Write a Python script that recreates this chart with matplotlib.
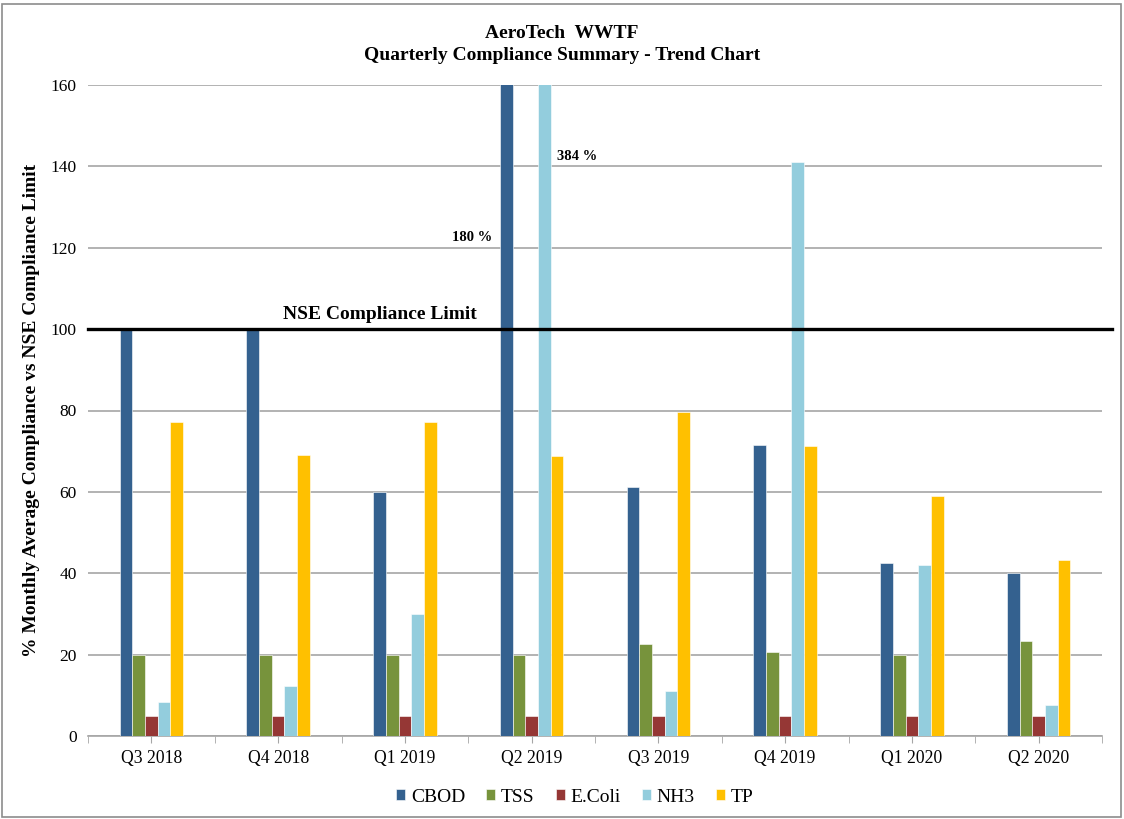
import matplotlib
matplotlib.use("Agg")
import matplotlib.pyplot as plt
import numpy as np
from matplotlib.patches import Rectangle
from matplotlib.lines import Line2D

plt.rcParams['font.family'] = ['Liberation Serif', 'DejaVu Serif']

quarters = ["Q3 2018", "Q4 2018", "Q1 2019", "Q2 2019", "Q3 2019", "Q4 2019", "Q1 2020", "Q2 2020"]
series_names = ["CBOD", "TSS", "E.Coli", "NH3", "TP"]
cbod = [100, 100, 60, 180, 61.2, 71.5, 42.5, 40]
tss = [20, 20, 20, 20, 22.6, 20.6, 20, 23.3]
ecoli = [5, 5, 5, 5, 5, 5, 5, 5]
nh3 = [8.4, 12.3, 30, 384, 11.1, 141, 42, 7.6]
tp = [77.2, 69.1, 77.2, 68.8, 79.6, 71.3, 59, 43.3]
colors = ["#34618F", "#77933C", "#953735", "#93CDDD", "#FFC000"]
limit = 100
ticks_y = [0, 20, 40, 60, 80, 100, 120, 140, 160]

W, H = 1124, 819
fig = plt.figure(figsize=(W / 100, H / 100), dpi=100)
ax = fig.add_axes([88 / W, (H - 736) / H, (1102 - 88) / W, (736 - 85) / H])

x = np.arange(len(quarters))
bw = 0.1
data = [cbod, tss, ecoli, nh3, tp]
for i, (name, vals, c) in enumerate(zip(series_names, data, colors)):
    ax.bar(x + (i - 2) * bw, vals, width=bw, color=c, edgecolor="white",
           linewidth=0.4, label=name, zorder=3)

ax.set_ylim(0, 160)
ax.set_xlim(-0.5, len(quarters) - 0.5)
ax.set_yticks(ticks_y)
ax.yaxis.grid(True, color="#A6A6A6", linewidth=1.2, zorder=0)
ax.set_axisbelow(True)
ax.tick_params(axis="y", length=0, labelsize=12.5, pad=8)
ax.set_xticks(x)
ax.set_xticklabels(quarters, fontsize=12.7)
ax.set_xticks(np.arange(-0.5, len(quarters), 1.0), minor=True)
ax.tick_params(axis="x", which="both", length=5, color="#A6A6A6", direction="out", pad=5)
for s in ["top", "right", "left"]:
    ax.spines[s].set_visible(False)
ax.spines["bottom"].set_color("#A6A6A6")
ax.spines["bottom"].set_linewidth(1.2)

# compliance limit line
ax.add_line(Line2D([0, 1.01], [limit, limit], transform=ax.get_yaxis_transform(),
                   color="black", linewidth=2.4, zorder=5, clip_on=False))
ax.text(1.8, limit + 1.4, "NSE Compliance Limit", ha="center", va="bottom",
        fontsize=14, fontweight="bold", zorder=6)
ax.text(2.69, 120.8, "180 %", ha="right", va="bottom", fontsize=10.5, fontweight="bold")
ax.text(3.2, 140.8, "384 %", ha="left", va="bottom", fontsize=10.5, fontweight="bold")

ax.set_ylabel("% Monthly Average Compliance vs NSE Compliance Limit", fontsize=14,
              fontweight="bold", labelpad=8)

fig.text(0.5, 1 - 33 / H, "AeroTech  WWTF", ha="center", va="center",
         fontsize=14, fontweight="bold")
fig.text(0.5, 1 - 56 / H, "Quarterly Compliance Summary - Trend Chart", ha="center",
         va="center", fontsize=14, fontweight="bold")

fig.legend(loc="center", bbox_to_anchor=(575 / W, 1 - 797 / H), ncol=5, frameon=False,
           fontsize=14, handlelength=0.45, handleheight=0.45, handletextpad=0.3,
           columnspacing=1.1)

fig.patches.append(Rectangle((2 / W, 2 / H), 1 - 5 / W, 1 - 6 / H, transform=fig.transFigure,
                             fill=False, edgecolor="#8C8C8C", linewidth=1.2))

fig.savefig("out.png", dpi=100)
